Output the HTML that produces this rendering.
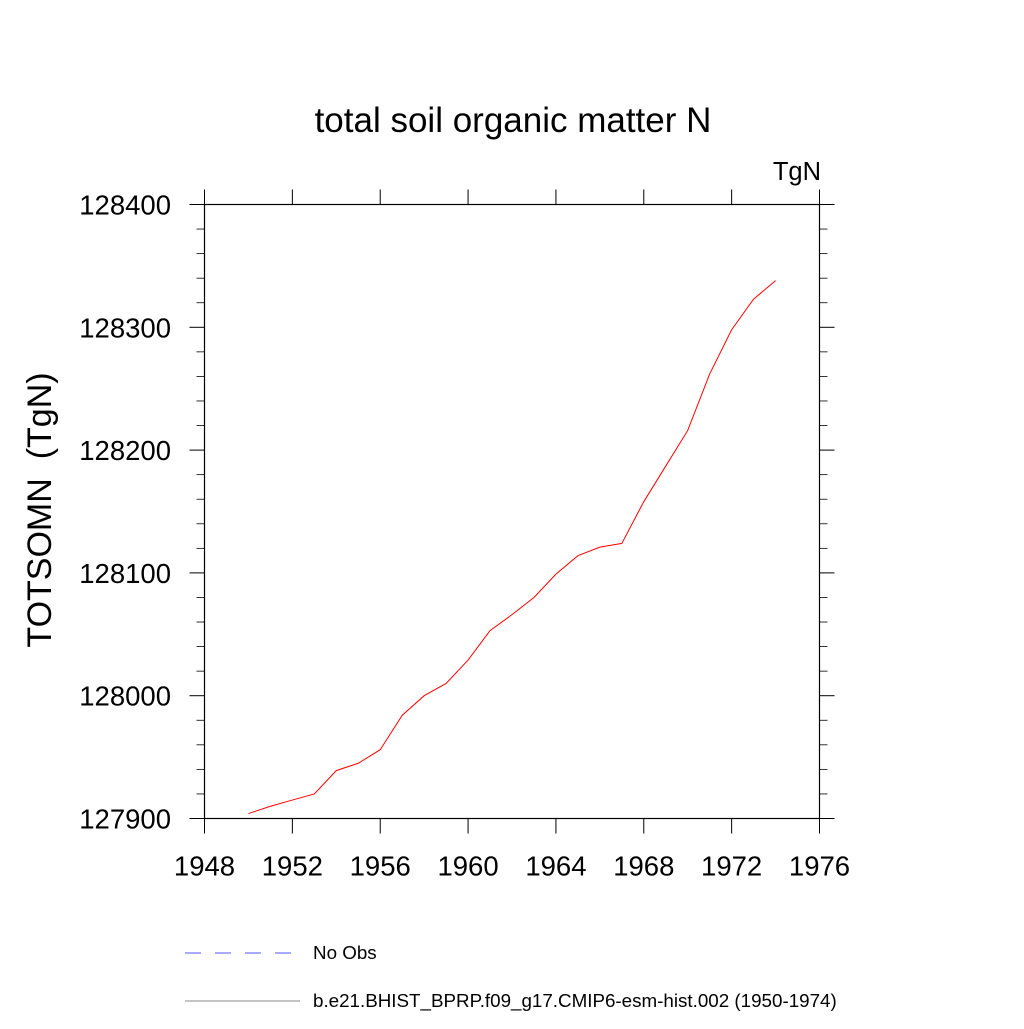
<!DOCTYPE html>
<html><head><meta charset="utf-8"><style>
body{margin:0;background:#fff}
text{font-family:"Liberation Sans",sans-serif}
</style></head><body>
<svg width="1024" height="1024" xmlns="http://www.w3.org/2000/svg">
<rect width="1024" height="1024" fill="#fff"/>
<text x="513" y="132" font-size="35" text-anchor="middle">total soil organic matter N</text>
<text x="821" y="180" font-size="25.5" text-anchor="end">TgN</text>
<text transform="translate(51,510) rotate(-90)" font-size="34" text-anchor="middle">TOTSOMN&#160;&#160;(TgN)</text>
<g id="axes"></g>
<g id="series"></g>
<g>
<line x1="185" y1="953" x2="292" y2="953" stroke="#5555ff" stroke-width="1" stroke-dasharray="16,14"/>
<text x="313" y="959" font-size="18.8">No Obs</text>
<line x1="185" y1="1001" x2="300" y2="1001" stroke="#888" stroke-width="1"/>
<text x="313" y="1007" font-size="18.8">b.e21.BHIST_BPRP.f09_g17.CMIP6-esm-hist.002 (1950-1974)</text>
</g>
</svg>
<script>
const years=[1950,1951,1952,1953,1954,1955,1956,1957,1958,1959,1960,1961,1962,1963,1964,1965,1966,1967,1968,1969,1970,1971,1972,1973,1974];
const values=[127904,127910,127915,127920,127939,127945,127956,127984,128000,128010,128029,128053,128066,128080,128099,128114,128121,128124,128158,128187,128216,128262,128298,128323,128338];
const xTicks=[1948,1952,1956,1960,1964,1968,1972,1976];
const yTicks=[127900,128000,128100,128200,128300,128400];
const X0=204.5,X1=819.5,Y0=818.5,Y1=204.5;
const xs=v=>X0+(v-1948)/(1976-1948)*(X1-X0);
const ys=v=>Y0-(v-127900)/(128400-127900)*(Y0-Y1);
const NS="http://www.w3.org/2000/svg";
const ax=document.getElementById('axes');
function mk(t,a,p){const e=document.createElementNS(NS,t);for(const k in a)e.setAttribute(k,a[k]);p.appendChild(e);return e;}
const frame=mk('rect',{x:X0,y:Y1,width:X1-X0,height:Y0-Y1,fill:'none',stroke:'#000','stroke-width':1.2},ax);


xTicks.forEach(t=>{const x=xs(t);
mk('line',{x1:x,y1:Y0,x2:x,y2:Y0+15,stroke:'#000'},ax);
mk('line',{x1:x,y1:Y1,x2:x,y2:Y1-15,stroke:'#000'},ax);
const tx=mk('text',{x:x,y:Y0+57,'font-size':27.5,'text-anchor':'middle'},ax);tx.textContent=t;

});
for(let v=127900;v<=128400;v+=20){const y=ys(v);const maj=(v%100===0);const L=maj?15:8;
mk('line',{x1:X0,y1:y,x2:X0-L,y2:y,stroke:'#000','stroke-width':maj?1:0.8},ax);
mk('line',{x1:X1,y1:y,x2:X1+L,y2:y,stroke:'#000','stroke-width':maj?1:0.8},ax);}
yTicks.forEach(t=>{const tx=mk('text',{x:171,y:ys(t)+10,'font-size':27.5,'text-anchor':'end'},ax);tx.textContent=t;

});
const pl=mk('polyline',{points:years.map((y,i)=>xs(y)+','+ys(values[i])).join(' '),fill:'none',stroke:'#ff0000','stroke-width':1},document.getElementById('series'));


</script>
</body></html>
